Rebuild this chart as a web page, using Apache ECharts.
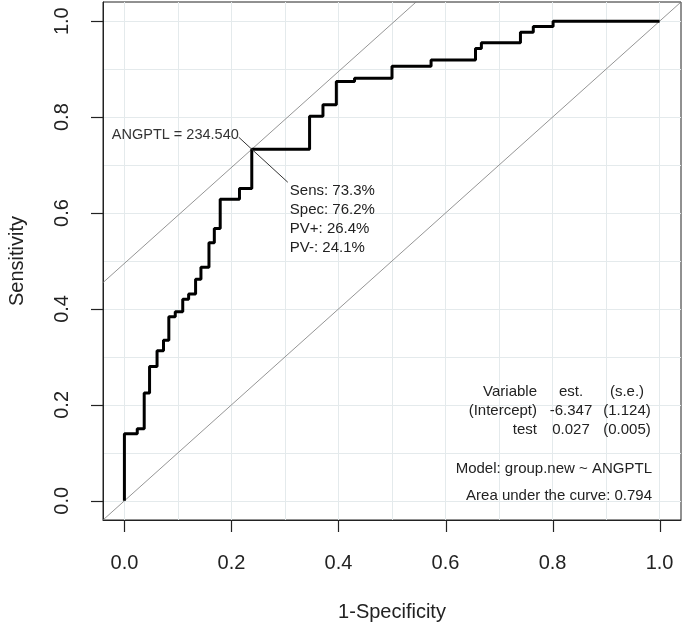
<!DOCTYPE html>
<html><head><meta charset="utf-8">
<script src="https://cdn.jsdelivr.net/npm/echarts@6/dist/echarts.min.js"></script>
<style>html,body{margin:0;padding:0;background:#fff}#c{width:685px;height:632px}</style>
</head><body><div id="c"></div>
<script>
// ROC step vertices (1-Specificity, Sensitivity)
const fpr  = [0, 0, 0.024, 0.037, 0.047, 0.061, 0.073, 0.083, 0.095, 0.109, 0.120, 0.133, 0.143, 0.158, 0.168, 0.179, 0.215, 0.238, 0.346, 0.371, 0.396, 0.430, 0.500, 0.573, 0.656, 0.667, 0.740, 0.764, 0.801, 1.0];
const sens = [0, 0.140, 0.150, 0.225, 0.280, 0.313, 0.335, 0.384, 0.394, 0.420, 0.431, 0.462, 0.487, 0.538, 0.568, 0.629, 0.651, 0.733, 0.802, 0.826, 0.874, 0.881, 0.906, 0.919, 0.943, 0.955, 0.977, 0.989, 1.0, 1.0];
const axisTicks = [0, 0.2, 0.4, 0.6, 0.8, 1.0];
const gridTicks = [0, 0.1, 0.2, 0.3, 0.4, 0.5, 0.6, 0.7, 0.8, 0.9, 1.0];
const axisMin = -0.04, axisMax = 1.04;
const optFpr = 0.238, optSens = 0.733;
const cutLabel = 'ANGPTL = 234.540';
const statLines = ['Sens: 73.3%', 'Spec: 76.2%', 'PV+: 26.4%', 'PV-: 24.1%'];
const tableRows = [['Variable', 'est.', '(s.e.)'], ['(Intercept)', '-6.347', '(1.124)'], ['test', '0.027', '(0.005)']];
const modelText = 'Model: group.new ~ ANGPTL';
const aucText = 'Area under the curve: 0.794';
const xTitle = '1-Specificity', yTitle = 'Sensitivity';

const FONT = '"Liberation Sans", Arial, sans-serif';
const TICK_LEN = 12;
const rocData = fpr.map((x, i) => [x, sens[i]]);
const diagData = [[axisMin, axisMin], [axisMax, axisMax]];
const off = optSens - optFpr;
const parData = [[axisMin, axisMin + off], [axisMax - off, axisMax]];

const chart = echarts.init(document.getElementById('c'), null, {renderer: 'canvas'});
const mainAxis = (name, isY) => ({
  type: 'value', min: axisMin, max: axisMax, gridIndex: 0,
  position: isY ? 'left' : 'bottom',
  axisLine: {show: true, onZero: false, lineStyle: {color: '#222', width: 1}},
  axisTick: {show: false, customValues: axisTicks},
  axisLabel: {customValues: axisTicks, formatter: v => v.toFixed(1), fontSize: 20, fontFamily: FONT, color: '#222', margin: isY ? 31 : 33, rotate: isY ? 90 : 0},
  splitLine: {show: false},
  name: name, nameLocation: 'middle', nameGap: isY ? 76 : 82,
  nameTextStyle: {fontSize: 20, fontFamily: FONT, color: '#222'}
});
const gridAxis = (isY) => ({
  type: 'value', min: axisMin, max: axisMax, gridIndex: 0,
  position: isY ? 'right' : 'top',
  axisLine: {show: false, onZero: false},
  axisTick: {show: false, customValues: gridTicks},
  axisLabel: {show: false},
  splitLine: {show: true, lineStyle: {color: '#e4eaec', width: 1}}
});

chart.setOption({
  animation: false,
  backgroundColor: '#fff',
  grid: {left: 103, right: 4, top: 2, bottom: 112, show: true, borderColor: '#222', borderWidth: 1, backgroundColor: 'transparent', outerBoundsMode: 'none', containLabel: false},
  xAxis: [mainAxis(xTitle, false), gridAxis(false)],
  yAxis: [mainAxis(yTitle, true), gridAxis(true)],
  series: [
    {type: 'line', xAxisIndex: 0, yAxisIndex: 0, data: diagData, symbol: 'none', lineStyle: {color: '#7a7a7a', width: 0.8}, z: 2},
    {type: 'line', xAxisIndex: 0, yAxisIndex: 0, data: parData, symbol: 'none', lineStyle: {color: '#7a7a7a', width: 0.8}, z: 2},
    {type: 'line', xAxisIndex: 0, yAxisIndex: 0, data: rocData, step: 'end', symbol: 'none', lineStyle: {color: '#000', width: 3}, z: 3}
  ]
});

const toPx = (v) => chart.convertToPixel({xAxisIndex: 0, yAxisIndex: 0}, v);
const corner = toPx([axisMin, axisMin]);
const g = [];
// outward tick marks placed through the axis scale
axisTicks.forEach(v => {
  const px = toPx([v, v]);
  const xx = Math.round(px[0]) + 0.5, yy = Math.round(px[1]) + 0.5;
  const bx = Math.round(corner[1]), by = Math.round(corner[0]);
  g.push({type: 'rect', shape: {x: xx - 0.6, y: bx, width: 1.2, height: TICK_LEN}, style: {fill: '#222'}, z: 100, zlevel: 1});
  g.push({type: 'rect', shape: {x: by - TICK_LEN, y: yy - 0.6, width: TICK_LEN, height: 1.2}, style: {fill: '#222'}, z: 100, zlevel: 1});
});
const p = toPx([optFpr, optSens]);
g.push({type: 'text', x: p[0] - 13, y: p[1] - 14, style: {text: cutLabel, align: 'right', verticalAlign: 'middle', font: '14.5px ' + FONT, fill: '#333'}, z: 10});
g.push({type: 'line', shape: {x1: p[0] - 13, y1: p[1] - 12, x2: p[0], y2: p[1]}, style: {stroke: '#333', lineWidth: 1}, z: 10});
g.push({type: 'line', shape: {x1: p[0], y1: p[1], x2: p[0] + 36, y2: p[1] + 33}, style: {stroke: '#333', lineWidth: 1}, z: 10});
statLines.forEach((t, i) => g.push({type: 'text', x: p[0] + 38, y: p[1] + 42 + i * 19, style: {text: t, align: 'left', verticalAlign: 'middle', font: '15px ' + FONT, fill: '#222'}, z: 10}));
const colX = [537, 571, 627], colAlign = ['right', 'center', 'center'], rowY = [392, 411, 430];
tableRows.forEach((row, r) => row.forEach((t, c) => g.push({type: 'text', x: colX[c], y: rowY[r], style: {text: t, align: colAlign[c], verticalAlign: 'middle', font: '15px ' + FONT, fill: '#222'}, z: 10})));
g.push({type: 'text', x: 652, y: 469, style: {text: modelText, align: 'right', verticalAlign: 'middle', font: '15px ' + FONT, fill: '#222'}, z: 10});
g.push({type: 'text', x: 652, y: 496, style: {text: aucText, align: 'right', verticalAlign: 'middle', font: '15px ' + FONT, fill: '#222'}, z: 10});
chart.setOption({graphic: g});
</script></body></html>
